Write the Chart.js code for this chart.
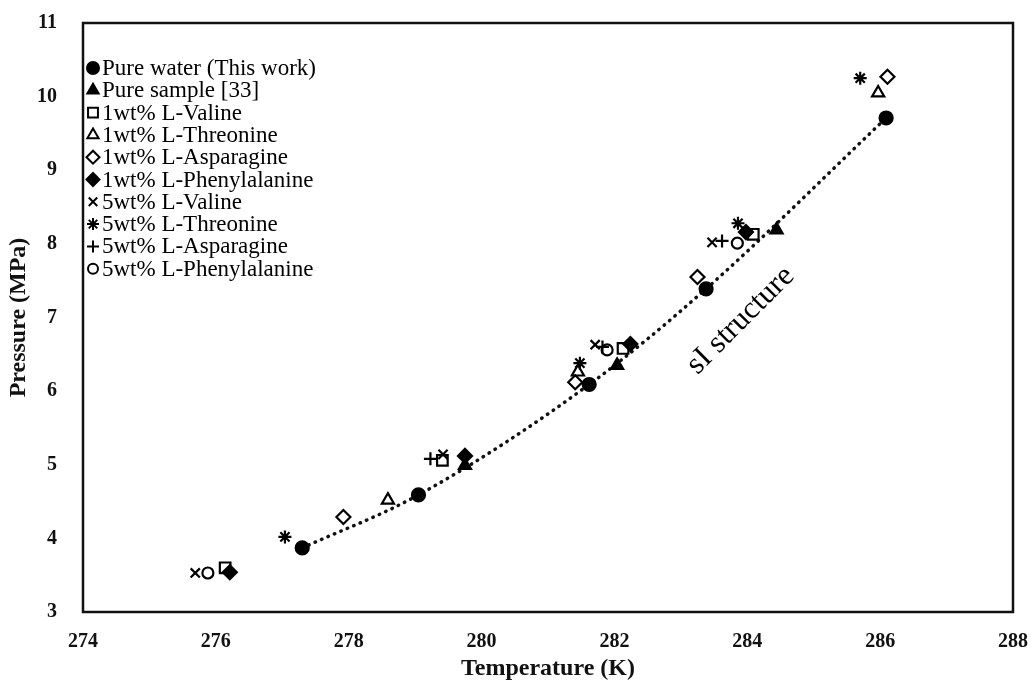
<!DOCTYPE html>
<html>
<head>
<meta charset="utf-8">
<script src="https://cdn.jsdelivr.net/npm/chart.js@4.4.1/dist/chart.umd.min.js"></script>
<style>
  html, body { margin: 0; padding: 0; background: #fff; }
  #wrap { width: 1035px; height: 688px; position: relative; }
</style>
</head>
<body>
<div id="wrap"><canvas id="myChart"></canvas></div>
<script>
// axis ticks
const xTicks = [274, 276, 278, 280, 282, 284, 286, 288];
const yTicks = [3, 4, 5, 6, 7, 8, 9, 10, 11];

// temperature (K) / pressure (MPa)
const pureWaterT = [277.30, 279.05, 281.62, 283.38, 286.09];
const pureWaterP = [3.87, 4.59, 6.09, 7.39, 9.71];
const pureSampleT = [279.75, 282.04, 284.44];
const pureSampleP = [4.99, 6.35, 8.19];
const valine1T = [276.14, 279.41, 282.13, 284.09];
const valine1P = [3.60, 5.06, 6.58, 8.13];
const threonine1T = [278.59, 281.45, 285.97];
const threonine1P = [4.52, 6.26, 10.05];
const asparagine1T = [277.92, 281.41, 283.25, 286.11];
const asparagine1P = [4.29, 6.12, 7.55, 10.27];
const phenyl1T = [276.21, 279.75, 282.24, 283.98];
const phenyl1P = [3.54, 5.12, 6.64, 8.16];
const valine5T = [275.69, 279.42, 281.71, 283.47];
const valine5P = [3.53, 5.14, 6.63, 8.02];
const threonine5T = [277.04, 281.48, 283.86, 285.70];
const threonine5P = [4.02, 6.38, 8.28, 10.25];
const asparagine5T = [279.23, 281.82, 283.62];
const asparagine5P = [5.08, 6.60, 8.04];
const phenyl5T = [275.88, 281.89, 283.85];
const phenyl5P = [3.53, 6.56, 8.01];

const serif = '"Liberation Serif", "Times New Roman", serif';

function pts(t, p) {
  return t.map((v, i) => ({ x: v, y: p[i] }));
}

// label, data, point style, filled?, radius
const series = [
  ['Pure water (This work)', pts(pureWaterT, pureWaterP), 'circle', true, 6.5],
  ['Pure sample [33]', pts(pureSampleT, pureSampleP), 'triangle', true, 7],
  ['1wt% L-Valine', pts(valine1T, valine1P), 'rect', false, 7.5],
  ['1wt% L-Threonine', pts(threonine1T, threonine1P), 'triangle', false, 7],
  ['1wt% L-Asparagine', pts(asparagine1T, asparagine1P), 'rectRot', false, 7],
  ['1wt% L-Phenylalanine', pts(phenyl1T, phenyl1P), 'rectRot', true, 7],
  ['5wt% L-Valine', pts(valine5T, valine5P), 'crossRot', false, 6.5],
  ['5wt% L-Threonine', pts(threonine5T, threonine5P), 'star', false, 6.5],
  ['5wt% L-Asparagine', pts(asparagine5T, asparagine5P), 'cross', false, 6.5],
  ['5wt% L-Phenylalanine', pts(phenyl5T, phenyl5P), 'circle', false, 5.5]
];

const datasets = series.map(s => ({
  label: s[0],
  data: s[1],
  pointStyle: s[2],
  pointRadius: s[4],
  pointBorderWidth: 2.2,
  pointBorderColor: '#000',
  pointBackgroundColor: s[3] ? '#000' : 'rgba(255,255,255,0)',
  showLine: false
}));

// dotted trend line through the pure water points
datasets.push({
  label: 'trend',
  data: pts(pureWaterT, pureWaterP),
  showLine: true,
  pointRadius: 0,
  borderColor: '#111',
  borderWidth: 3.5,
  borderDash: [0.5, 6.5],
  borderCapStyle: 'round',
  cubicInterpolationMode: 'monotone',
  order: 99
});

const whiteBg = {
  id: 'whiteBg',
  beforeDraw(chart) {
    const c = chart.ctx;
    c.save();
    c.fillStyle = '#fff';
    c.fillRect(0, 0, chart.width, chart.height);
    c.restore();
  }
};

const frame = {
  id: 'frame',
  beforeDatasetsDraw(chart) {
    const a = chart.chartArea;
    const c = chart.ctx;
    c.save();
    c.strokeStyle = '#111';
    c.lineWidth = 2.5;
    c.strokeRect(a.left, a.top, a.right - a.left, a.bottom - a.top);
    c.restore();
  }
};

const extras = {
  id: 'extras',
  afterDraw(chart) {
    const c = chart.ctx;
    const xs = chart.scales.x, ys = chart.scales.y;
    c.save();
    // "sI structure" label along the curve
    c.translate(xs.getPixelForValue(283.9), ys.getPixelForValue(6.96));
    c.rotate(-Math.PI / 4);
    c.font = '31px ' + serif;
    c.fillStyle = '#000';
    c.textAlign = 'center';
    c.textBaseline = 'middle';
    c.fillText('sI structure', 0, 0);
    c.restore();

    // legend inside the plot
    c.save();
    c.font = '23px ' + serif;
    c.textBaseline = 'middle';
    c.textAlign = 'left';
    series.forEach((s, i) => {
      const y = 68 + i * 22.3;
      c.fillStyle = s[3] ? '#000' : 'rgba(255,255,255,0)';
      c.strokeStyle = '#000';
      c.lineWidth = 2;
      Chart.helpers.drawPoint(c, {
        pointStyle: s[2], radius: s[4] - 0.5, rotation: 0, borderWidth: 2
      }, 93, y);
      c.fillStyle = '#000';
      c.fillText(s[0], 102, y + 1);
    });
    c.restore();
  }
};

const ctx = document.getElementById('myChart').getContext('2d');
const myChart = new Chart(ctx, {
  type: 'scatter',
  data: { datasets: datasets },
  options: {
    responsive: true,
    maintainAspectRatio: false,
    animation: false,
    layout: { padding: { top: 23, right: 22, left: 0, bottom: 0 } },
    plugins: {
      legend: { display: false },
      tooltip: { enabled: false }
    },
    scales: {
      x: {
        type: 'linear',
        min: 274,
        max: 288,
        afterBuildTicks: s => { s.ticks = xTicks.map(v => ({ value: v })); },
        afterFit: s => { s.height = 76; s.paddingLeft = 0; s.paddingRight = 0; },
        grid: { display: false, drawTicks: false },
        border: { display: false },
        ticks: {
          padding: 18,
          color: '#111',
          font: { family: serif, size: 20, weight: 'bold' },
          callback: v => String(v)
        },
        title: {
          display: true,
          text: 'Temperature (K)',
          color: '#111',
          padding: { top: 0, bottom: 5 },
          font: { family: serif, size: 24, weight: 'bold' }
        }
      },
      y: {
        type: 'linear',
        min: 3,
        max: 11,
        afterBuildTicks: s => { s.ticks = yTicks.map(v => ({ value: v })); },
        afterFit: s => { s.width = 83; s.paddingTop = 0; s.paddingBottom = 0; },
        grid: { display: false, drawTicks: false },
        border: { display: false },
        ticks: {
          padding: 26,
          color: '#111',
          font: { family: serif, size: 20, weight: 'bold' },
          callback: v => String(v)
        },
        title: {
          display: true,
          text: 'Pressure (MPa)',
          color: '#111',
          padding: { top: 4, bottom: 0 },
          font: { family: serif, size: 24, weight: 'bold' }
        }
      }
    }
  },
  plugins: [whiteBg, frame, extras]
});
</script>
</body>
</html>
